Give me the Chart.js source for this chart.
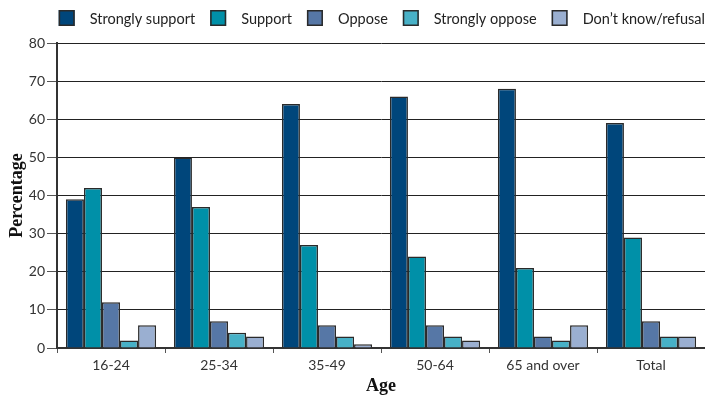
<!DOCTYPE html>
<html>
<head>
<meta charset="utf-8">
<script src="https://cdn.jsdelivr.net/npm/chart.js@4/dist/chart.umd.min.js"></script>
<style>
  html, body { margin: 0; padding: 0; background: #fff; }
  #wrap { width: 705px; height: 399px; }
</style>
</head>
<body>
<div id="wrap"><canvas id="c" width="705" height="399"></canvas></div>
<script>
// Support by age group (%)
const categories = ['16-24', '25-34', '35-49', '50-64', '65 and over', 'Total'];
const seriesNames = ['Strongly support', 'Support', 'Oppose', 'Strongly oppose', 'Don\u2019t know/refusal'];
const stronglySupport = [39, 50, 64, 66, 68, 59];
const support         = [42, 37, 27, 24, 21, 29];
const oppose          = [12,  7,  6,  6,  3,  7];
const stronglyOppose  = [ 2,  4,  3,  3,  2,  3];
const dontKnow        = [ 6,  3,  1,  2,  6,  3];
const yTicks = [0, 10, 20, 30, 40, 50, 60, 70, 80];

const colors = ['#00467b', '#0090a8', '#5677a6', '#47b1c7', '#9aafd1'];
const seriesValues = [stronglySupport, support, oppose, stronglyOppose, dontKnow];

const sansFont = 'Lato, "Open Sans", sans-serif';
const serifFont = '"Liberation Serif", "DejaVu Serif", serif';

// Legend drawn across the top, right-aligned
const topLegend = {
  id: 'topLegend',
  afterDraw(chart) {
    const ctx = chart.ctx;
    ctx.save();
    ctx.font = '14.5px ' + sansFont;
    const boxW = 16, boxH = 16, textGap = 15, itemGap = 15;
    const items = chart.data.datasets.map(d => ({
      label: d.label, color: d.backgroundColor, w: ctx.measureText(d.label).width
    }));
    let total = 0;
    items.forEach((it, i) => { total += boxW + textGap + it.w + (i < items.length - 1 ? itemGap : 0); });
    let x = 705 - total;
    const y = 10;
    items.forEach(it => {
      ctx.fillStyle = it.color;
      ctx.fillRect(x, y, boxW, boxH);
      ctx.strokeStyle = '#2a2a2a';
      ctx.lineWidth = 1.5;
      ctx.strokeRect(x + 0.75, y + 0.75, boxW - 1.5, boxH - 1.5);
      ctx.fillStyle = '#222';
      ctx.textBaseline = 'middle';
      ctx.textAlign = 'left';
      ctx.fillText(it.label, x + boxW + textGap, y + boxH / 2 + 1);
      x += boxW + textGap + it.w + itemGap;
    });
    ctx.restore();
  }
};

new Chart(document.getElementById('c'), {
  type: 'bar',
  data: {
    labels: categories,
    datasets: seriesNames.map((name, i) => ({
      label: name,
      data: seriesValues[i],
      backgroundColor: colors[i],
      borderColor: '#2a2a2a',
      borderWidth: 1.5,
      categoryPercentage: 0.835,
      barPercentage: 1.0
    }))
  },
  options: {
    responsive: false,
    animation: false,
    devicePixelRatio: 1,
    layout: { padding: { top: 43, right: 0, left: 0, bottom: 0 } },
    plugins: {
      legend: { display: false },
      tooltip: { enabled: false }
    },
    scales: {
      x: {
        grid: {
          display: true,
          drawOnChartArea: false,
          drawTicks: true,
          tickLength: 5,
          color: '#555',
          lineWidth: 1,
          offset: true
        },
        border: { display: true, color: '#333', width: 2 },
        ticks: {
          color: '#333',
          font: { family: sansFont, size: 14 },
          padding: 4,
          maxRotation: 0
        },
        title: {
          display: true,
          text: 'Age',
          color: '#111',
          font: { family: serifFont, size: 18, weight: 'bold' },
          padding: { top: 0, bottom: 2 }
        },
        afterFit(scale) { scale.height = 51; }
      },
      y: {
        min: 0,
        max: 80,
        afterBuildTicks(scale) { scale.ticks = yTicks.map(v => ({ value: v })); },
        grid: {
          color: '#222',
          lineWidth: 1,
          drawTicks: true,
          tickLength: 10,
          tickColor: '#555'
        },
        border: { display: true, color: '#333', width: 2 },
        ticks: {
          color: '#333',
          font: { family: sansFont, size: 14 },
          padding: 2
        },
        title: {
          display: true,
          text: 'Percentage',
          color: '#111',
          font: { family: serifFont, size: 18, weight: 'bold' },
          padding: { top: 7, bottom: 0 }
        },
        afterFit(scale) { scale.width = 57; }
      }
    }
  },
  plugins: [topLegend]
});
</script>
</body>
</html>
